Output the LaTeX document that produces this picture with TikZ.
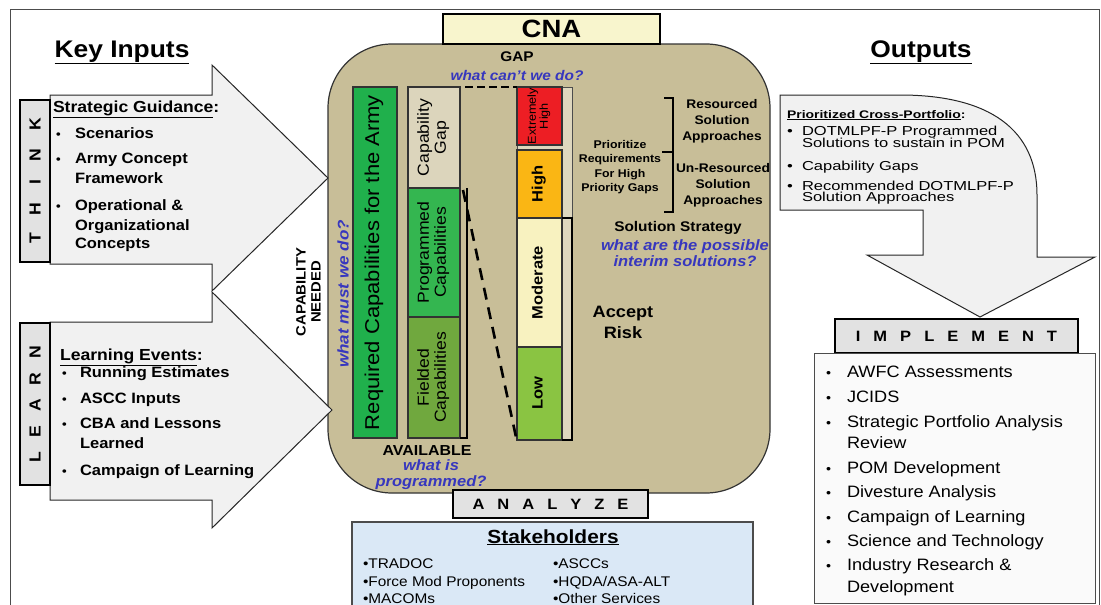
\documentclass[tikz,border=0pt]{standalone}
\usepackage{fontspec}
\usepackage{graphicx}
\setmainfont{Liberation Sans}[FakeStretch=1.1]
\newfontfamily\widefont{Liberation Sans}[FakeStretch=1.27]
\usetikzlibrary{calc}
\newcommand\fsz[2]{\fontsize{#1}{#2}\selectfont}
\newcommand\rot[1]{\rotatebox{90}{\begin{tabular}{@{}c@{}}#1\end{tabular}}}
\definecolor{cnatan}{RGB}{200,190,152}
\definecolor{lighttan}{RGB}{222,215,190}
\definecolor{capbeige}{RGB}{220,213,188}
\definecolor{reqgreen}{RGB}{32,176,76}
\definecolor{proggreen}{RGB}{52,182,80}
\definecolor{fieldgreen}{RGB}{112,168,62}
\definecolor{exred}{RGB}{237,30,36}
\definecolor{highor}{RGB}{250,182,20}
\definecolor{modcream}{RGB}{248,242,192}
\definecolor{lowgreen}{RGB}{138,196,66}
\definecolor{qblue}{RGB}{55,55,190}
\definecolor{cnayellow}{RGB}{248,245,205}
\definecolor{arrowgray}{RGB}{241,241,241}
\definecolor{boxgray}{RGB}{226,226,226}
\definecolor{stakeblue}{RGB}{218,232,246}
\begin{document}
\begin{tikzpicture}[x=1pt,y=-1pt,
  every node/.style={inner sep=0pt, outer sep=0pt},
  lbl/.style={draw=black, line width=2.2pt, fill=boxgray},
  bigarrow/.style={draw=black!85, line width=1pt, fill=arrowgray},
  col/.style={draw=black!80, line width=1.2pt},
  dashtop/.style={line width=2.6pt, dash pattern=on 8pt off 4pt},
  dashdiag/.style={line width=2.6pt, dash pattern=on 12pt off 8pt},
  inp/.style={anchor=base west, font=\fsz{15}{15}\bfseries},
  outp/.style={anchor=base west, font=\widefont\fsz{13}{13}},
  impp/.style={anchor=base west, font=\fsz{16.5}{16.5}},
  stk/.style={anchor=base west, font=\fsz{14}{14}},
  qtext/.style={text=qblue, font=\fsz{15}{15.5}\bfseries\itshape, align=center},
  btext/.style={font=\fsz{14}{14}\bfseries, align=center}]
\useasboundingbox (0,0) rectangle (1101,605);
\clip (0,0) rectangle (1101,605);
\fill[white] (0,0) rectangle (1101,605);
% page frame
\draw[line width=0.8pt, black!70] (10,620) -- (10,9) -- (1099,9) -- (1099,620);

% ---------- CNA body ----------
\node[draw=black!80, line width=1.2pt, fill=cnatan, rounded corners=64pt,
      minimum width=442pt, minimum height=449pt] (cna) at (549,268.5) {};
\node[draw=black, line width=2.2pt, fill=cnayellow, minimum width=217pt, minimum height=30pt,
      font=\fsz{25}{25}\bfseries] (cnat) at (551.5,29) {CNA};

% ---------- Key inputs ----------
\node[anchor=base, font=\fsz{24}{24}\bfseries] (keyin) at (122,57) {\underline{Key Inputs}};
\draw[bigarrow] (50,322) -- (212,322) -- (212,292) -- (332,410) -- (212,528) -- (212,500) -- (50,500) -- cycle;
\draw[bigarrow] (50,95) -- (212,95) -- (212,65) -- (328,178) -- (212,291) -- (212,264) -- (50,264) -- cycle;
\node[lbl, rotate=90, minimum width=162pt, minimum height=30pt, font=\fsz{16}{16}\bfseries]
   (think) at (35,181) {T\hspace{18pt}H\hspace{18pt}I\hspace{18pt}N\hspace{18pt}K};
\node[lbl, rotate=90, minimum width=162pt, minimum height=30pt, font=\fsz{16}{16}\bfseries]
   (learn) at (35,404) {L\hspace{14pt}E\hspace{14pt}A\hspace{14pt}R\hspace{14pt}N};

\node[anchor=base west, font=\fsz{16}{16}\bfseries] (sg) at (53,112) {\underline{Strategic Guidance}:};
\foreach \b/\t/\yy [count=\i] in {1/Scenarios/138, 1/Army Concept/163, 0/Framework/183,
    1/Operational \&/210, 0/Organizational/230, 0/Concepts/248}{
  \node[inp] (thk\i) at (75,\yy) {\t};
  \ifnum\b=1 \node[inp, font=\fsz{12}{12}\bfseries] (thkb\i) at (56,\yy) {•}; \fi
}
\node[anchor=base west, font=\fsz{16}{16}\bfseries] (le) at (60,360) {\underline{Learning Events}:};
\foreach \b/\t/\yy [count=\i] in {1/Running Estimates/377, 1/ASCC Inputs/403, 1/CBA and Lessons/428,
    0/Learned/448, 1/Campaign of Learning/475}{
  \node[inp] (lrn\i) at (80,\yy) {\t};
  \ifnum\b=1 \node[inp, font=\fsz{12}{12}\bfseries] (lrnb\i) at (62,\yy) {•}; \fi
}

% ---------- CNA content ----------
\node[btext] (gap) at (517,57) {GAP};
\node[qtext, font=\fsz{14}{14}\bfseries\itshape] (gapq) at (517,75) {what can't we do?};
\node[font=\fsz{13.5}{15}\bfseries] (capneed) at (310,292) {\rot{CAPABILITY\\NEEDED}};
\node[text=qblue, font=\fsz{15.5}{15.5}\bfseries\itshape] (mustq) at (343,294) {\rotatebox{90}{what must we do?}};

\node[col, fill=reqgreen, minimum width=44pt, minimum height=351pt, font=\fsz{20}{20}]
   (req) at (375,262.5) {\rot{Required Capabilities for the Army}};

\node[col, fill=capbeige, minimum width=52pt, minimum height=101pt, font=\fsz{16}{17}]
   (capgap) at (434,137.5) {\rot{Capability\\Gap}};
\node[col, fill=proggreen, minimum width=52pt, minimum height=129pt, font=\fsz{16}{17}]
   (prog) at (434,252.5) {\rot{Programmed\\Capabilities}};
\node[col, fill=fieldgreen, minimum width=52pt, minimum height=121pt, font=\fsz{16}{17}]
   (field) at (434,377.5) {\rot{Fielded\\Capabilities}};
\draw[line width=2pt] (460,438) -- (467,438) -- (467,188);

\node[draw=black!70, line width=0.8pt, fill=lighttan, minimum width=55pt, minimum height=353pt,
      anchor=north west] (riskback) at (517,87) {};
\node[col, fill=exred, minimum width=45pt, minimum height=58pt, font=\fsz{11.5}{12}]
   (ehigh) at (539.5,116) {\rot{Extremely\\High}};
\node[col, fill=highor, minimum width=45pt, minimum height=68pt, font=\fsz{15}{15}\bfseries]
   (high) at (539.5,184) {\rot{High}};
\node[col, fill=modcream, minimum width=45pt, minimum height=129pt, font=\fsz{15}{15}\bfseries]
   (moderate) at (539.5,282.5) {\rot{Moderate}};
\node[col, fill=lowgreen, minimum width=45pt, minimum height=93pt, font=\fsz{15}{15}\bfseries]
   (low) at (539.5,393.5) {\rot{Low}};
\draw[line width=2.2pt] (562,218) -- (572,218) -- (572,440) -- (562,440);

\coordinate (dA) at (465,87);
\draw[dashtop] (dA) -- (ehigh.north west);
\draw[dashdiag] ($(prog.north east)+(3,2)$) -- ($(low.south west)+(-1,-3)$);

\node[font=\fsz{11.2}{14.5}\bfseries, align=center] (prio) at (620,167)
   {Prioritize\\Requirements\\For High\\Priority Gaps};
\draw[line width=2.2pt] (664,98) -- (673,98) -- (673,212) -- (664,212);
\draw[line width=2.2pt] (673,152) -- (662,152);
\node[font=\fsz{12.5}{16}\bfseries, align=center] (res) at (722,121) {Resourced\\Solution\\Approaches};
\node[font=\fsz{12.5}{16}\bfseries, align=center] (unres) at (723,185) {Un-Resourced\\Solution\\Approaches};
\node[btext] (solstr) at (678,228) {Solution Strategy};
\node[qtext] (solq) at (685,253) {what are the possible\\interim solutions?};
\node[font=\fsz{16.5}{21}\bfseries, align=center] (accept) at (623,322) {Accept\\Risk};

\node[btext, font=\fsz{14.5}{14.5}\bfseries] (avail) at (427,451) {AVAILABLE};
\node[qtext] (availq) at (431,474.5) {what is\\programmed?};

% ---------- Analyze / stakeholders ----------
\node[lbl, minimum width=195pt, minimum height=28pt, font=\fsz{15}{15}\bfseries] (analyze) at (550.5,504)
   {A\hspace{13pt}N\hspace{13pt}A\hspace{13pt}L\hspace{13pt}Y\hspace{13pt}Z\hspace{13pt}E};
\node[draw=black!70, line width=1.2pt, fill=stakeblue, minimum width=401pt, minimum height=100pt,
      anchor=north west] (stake) at (352,522) {};
\node[anchor=base, font=\fsz{19}{19}\bfseries] (staket) at (553,543) {\underline{Stakeholders}};
\node[stk] (s1) at (363,568) {•TRADOC};
\node[stk] (s2) at (363,586) {•Force Mod Proponents};
\node[stk] (s3) at (363,603) {•MACOMs};
\node[stk] (s4) at (553,568) {•ASCCs};
\node[stk] (s5) at (553,586) {•HQDA/ASA-ALT};
\node[stk] (s6) at (553,603) {•Other Services};

% ---------- Outputs ----------
\node[anchor=base, font=\fsz{24}{24}\bfseries] (outt) at (921,57) {\underline{Outputs}};
\draw[bigarrow] (780,95) -- (900,95) .. controls (990,95) and (1037,130) .. (1037,195)
   -- (1037,257) -- (1095,257) -- (980,317) -- (867,255) -- (923,255) -- (923,210) -- (780,210) -- cycle;
\node[anchor=base west, font=\widefont\fsz{11}{11}\bfseries] (pcp) at (787,118) {\underline{Prioritized Cross-Portfolio}:};
\foreach \b/\t/\yy [count=\i] in {1/DOTMLPF-P Programmed/135, 0/Solutions to sustain in POM/147,
    1/Capability Gaps/170, 1/Recommended DOTMLPF-P/190, 0/Solution Approaches/201}{
  \node[outp] (op\i) at (802,\yy) {\t};
  \ifnum\b=1 \node[outp] (opb\i) at (787,\yy) {•}; \fi
}

\node[lbl, minimum width=243pt, minimum height=34pt, font=\fsz{15}{15}\bfseries] (impl) at (956.5,336)
   {I\hspace{13pt}M\hspace{13pt}P\hspace{13pt}L\hspace{13pt}E\hspace{13pt}M\hspace{13pt}E\hspace{13pt}N\hspace{13pt}T};
\node[draw=black!70, line width=1pt, fill=black!2, minimum width=281pt, minimum height=250pt,
      anchor=north west] (impllist) at (814,353) {};
\foreach \b/\t/\yy [count=\i] in {1/AWFC Assessments/377, 1/JCIDS/402, 1/Strategic Portfolio Analysis/427,
    0/Review/448, 1/POM Development/473, 1/Divesture Analysis/497, 1/Campaign of Learning/522,
    1/Science and Technology/546, 1/Industry Research \&/570, 0/Development/592}{
  \node[impp] (im\i) at (847,\yy) {\t};
  \ifnum\b=1 \node[impp, font=\fsz{13}{13}] (imb\i) at (826,\yy) {•}; \fi
}
\end{tikzpicture}
\end{document}
